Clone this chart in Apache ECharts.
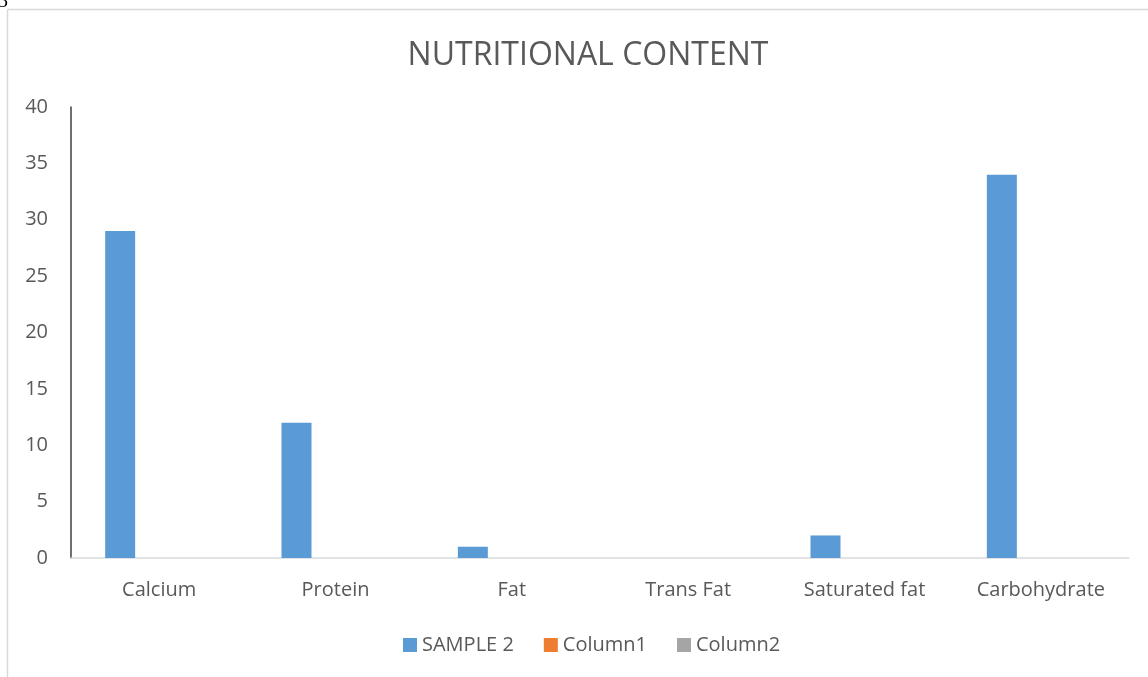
<!DOCTYPE html>
<html><head><meta charset="utf-8">
<script src="https://cdn.jsdelivr.net/npm/echarts@6/dist/echarts.min.js"></script>
<style>html,body{margin:0;padding:0;background:#fff}#c{width:1148px;height:677px}</style>
</head><body><div id="c"></div>
<script>
var categories = ['Calcium','Protein','Fat','Trans Fat','Saturated fat','Carbohydrate'];
var sample2 = [29, 12, 1, 0, 2, 34];
var column1 = [null, null, null, null, null, null];
var column2 = [null, null, null, null, null, null];
var seriesNames = ['SAMPLE 2','Column1','Column2'];
var colors = ['#5b9bd5','#ed7d31','#a5a5a5'];
var FONT = '"Open Sans", "Noto Sans", sans-serif';
var chart = echarts.init(document.getElementById('c'));
chart.setOption({
  animation: false,
  color: colors,
  graphic: [
    {type:'line', shape:{x1:7.5,y1:9.5,x2:1148,y2:9.5}, style:{stroke:'#d9d9d9',lineWidth:1.5}},
    {type:'line', shape:{x1:7.5,y1:9.5,x2:7.5,y2:677}, style:{stroke:'#d9d9d9',lineWidth:1.5}},
    {type:'text', left:-2, top:-8, style:{text:'3', fill:'#000', font:'20px "Liberation Serif", serif'}}
  ],
  title: {
    text: 'NUTRITIONAL CONTENT', left: 583, top: 35, textAlign: 'center',
    textStyle: {fontFamily: FONT, fontSize: 32, fontWeight: 'normal', color: '#595959'}
  },
  legend: {
    data: seriesNames, left: 398, top: 630, itemWidth: 14, itemHeight: 14, itemGap: 30,
    icon: 'rect',
    textStyle: {fontFamily: FONT, fontSize: 20, color: '#595959'}
  },
  grid: {left: 71, right: 19, top: 107, bottom: 119, containLabel: false},
  xAxis: {
    type: 'category', data: categories,
    axisLine: {lineStyle: {color: '#d9d9d9', width: 1.5}},
    axisTick: {show: false},
    axisLabel: {fontFamily: FONT, fontSize: 20, color: '#595959', margin: 22}
  },
  yAxis: {
    type: 'value', min: 0, max: 40, interval: 5,
    axisLine: {show: true, lineStyle: {color: '#404040', width: 1.5}},
    axisTick: {show: false},
    splitLine: {show: false},
    axisLabel: {fontFamily: FONT, fontSize: 20, color: '#595959', margin: 23}
  },
  series: [
    {name: seriesNames[0], type: 'bar', data: sample2, barWidth: 30, barGap: '30%'},
    {name: seriesNames[1], type: 'bar', data: column1, barWidth: 30, barGap: '30%'},
    {name: seriesNames[2], type: 'bar', data: column2, barWidth: 30, barGap: '30%'}
  ]
});
</script></body></html>
